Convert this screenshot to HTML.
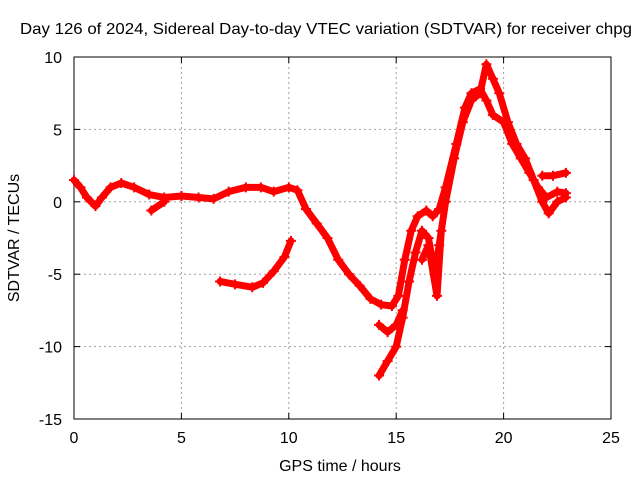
<!DOCTYPE html>
<html><head><meta charset="utf-8"><style>
body{margin:0;background:#fff;}
svg text{font-family:"Liberation Sans",sans-serif;font-size:16px;fill:#000;}
</style></head><body>
<svg id="chart" width="640" height="480" xmlns="http://www.w3.org/2000/svg">
<rect width="640" height="480" fill="#fff"/>
<g id="grid"></g>
<g id="axes"></g>
<g id="series"></g>
<text x="326" y="34" text-anchor="middle" textLength="612" lengthAdjust="spacingAndGlyphs">Day 126 of 2024, Sidereal Day-to-day VTEC variation (SDTVAR) for receiver chpg</text>
<text x="340" y="471" text-anchor="middle">GPS time / hours</text>
<text x="19" y="238" text-anchor="middle" transform="rotate(-90 19 238)">SDTVAR / TECUs</text>
</svg>
<script>
const xTicks=[0,5,10,15,20,25];
const yTicks=[10,5,0,-5,-10,-15];
const traceA=[[0,1.5],[0.3,1.0],[0.6,0.3],[1.0,-0.3],[1.3,0.3],[1.7,1.0],[2.2,1.3],[2.8,1.0],[3.5,0.5],[4.2,0.3],[5,0.4],[5.8,0.3],[6.5,0.2],[7.2,0.7],[8,1.0],[8.7,1.0],[9.3,0.7],[10,1.0],[10.4,0.8],[10.8,-0.5],[11.3,-1.5],[11.8,-2.5],[12.3,-4],[12.8,-5],[13.3,-5.8],[13.8,-6.7],[14.3,-7.1],[14.8,-7.2],[15.1,-6.5],[15.4,-4],[15.7,-2],[16,-1],[16.4,-0.6],[16.7,-1],[17,-0.5],[17.3,1],[17.8,4],[18.2,6.5],[18.5,7.5],[18.9,7.8],[19.2,7],[19.5,6],[20,5.5],[20.4,4],[20.8,3],[21.2,2],[21.6,1],[22,0.3],[22.5,0.7],[22.9,0.6]];
const traceB=[[14.2,-12],[14.6,-11],[15.0,-10],[15.3,-8],[15.6,-5.5],[15.9,-3.5],[16.2,-2],[16.5,-2.5],[16.8,-5],[17.0,-3],[17.3,0],[17.7,3],[18.1,5.5],[18.5,7],[18.9,7.5],[19.2,9.5],[19.5,8.5],[19.8,7.5],[20.2,5.5],[20.6,4],[21,3],[21.4,1.5],[21.8,0],[22.1,-0.8],[22.5,0],[22.9,0.3]];
const traceC=[[6.8,-5.5],[7.5,-5.7],[8.3,-5.9],[8.8,-5.6],[9.3,-4.8],[9.8,-3.8],[10.1,-2.7]];
const traceD=[[14.2,-8.5],[14.6,-9],[15,-8.5],[15.3,-7.5]];
const traceE=[[21.8,1.8],[22.3,1.8],[22.9,2.0]];
const traceF=[[3.6,-0.6],[4.2,0.0]];
const traceG=[[16.2,-4],[16.5,-3],[16.9,-6.5],[17.1,-2]];
const X0=74,X1=611,Y0=419,Y1=57;
const sx=v=>X0+(v-0)/25*(X1-X0);
const sy=v=>Y0-(v+15)/25*(Y0-Y1);
const NS="http://www.w3.org/2000/svg";
function mk(t,a,p){const e=document.createElementNS(NS,t);for(const k in a)e.setAttribute(k,a[k]);p.appendChild(e);return e;}
const grid=document.getElementById('grid'),axes=document.getElementById('axes'),ser=document.getElementById('series');
xTicks.forEach(t=>{const x=sx(t);
 if(t>0&&t<25){const l=mk('line',{x1:x,x2:x,y1:Y1,y2:Y0,stroke:'#a0a0a0','stroke-dasharray':'2,3'},grid);}
 mk('line',{x1:x,x2:x,y1:Y0,y2:Y0-6,stroke:'#000'},axes);mk('line',{x1:x,x2:x,y1:Y1,y2:Y1+6,stroke:'#000'},axes);
 const tx=mk('text',{x:x,y:Y0+24,'text-anchor':'middle'},axes);tx.textContent=t;
 });
yTicks.forEach(t=>{const y=sy(t);
 if(t>-15&&t<10){const l=mk('line',{x1:X0,x2:X1,y1:y,y2:y,stroke:'#a0a0a0','stroke-dasharray':'2,3'},grid);}
 mk('line',{x1:X0,x2:X0+6,y1:y,y2:y,stroke:'#000'},axes);mk('line',{x1:X1,x2:X1-6,y1:y,y2:y,stroke:'#000'},axes);
 const tx=mk('text',{x:X0-12,y:y+6,'text-anchor':'end'},axes);tx.textContent=t;
 });
const fr=mk('rect',{x:X0,y:Y1,width:X1-X0,height:Y0-Y1,fill:'none',stroke:'#000'},axes);

[traceA,traceB,traceC,traceD,traceE,traceF,traceG].forEach((tr,i)=>{
 const pl=mk('polyline',{points:tr.map(p=>sx(p[0])+','+sy(p[1])).join(' '),fill:'none',stroke:'#f00','stroke-width':7,'stroke-linejoin':'round','stroke-linecap':'round'},ser);
 
 
 tr.forEach(p=>{const x=sx(p[0]),y=sy(p[1]);
  const m=mk('path',{d:`M${x-5},${y}H${x+5}M${x},${y-5}V${y+5}`,stroke:'#f00','stroke-width':2},ser);
  
  });
});
</script>
</body></html>
